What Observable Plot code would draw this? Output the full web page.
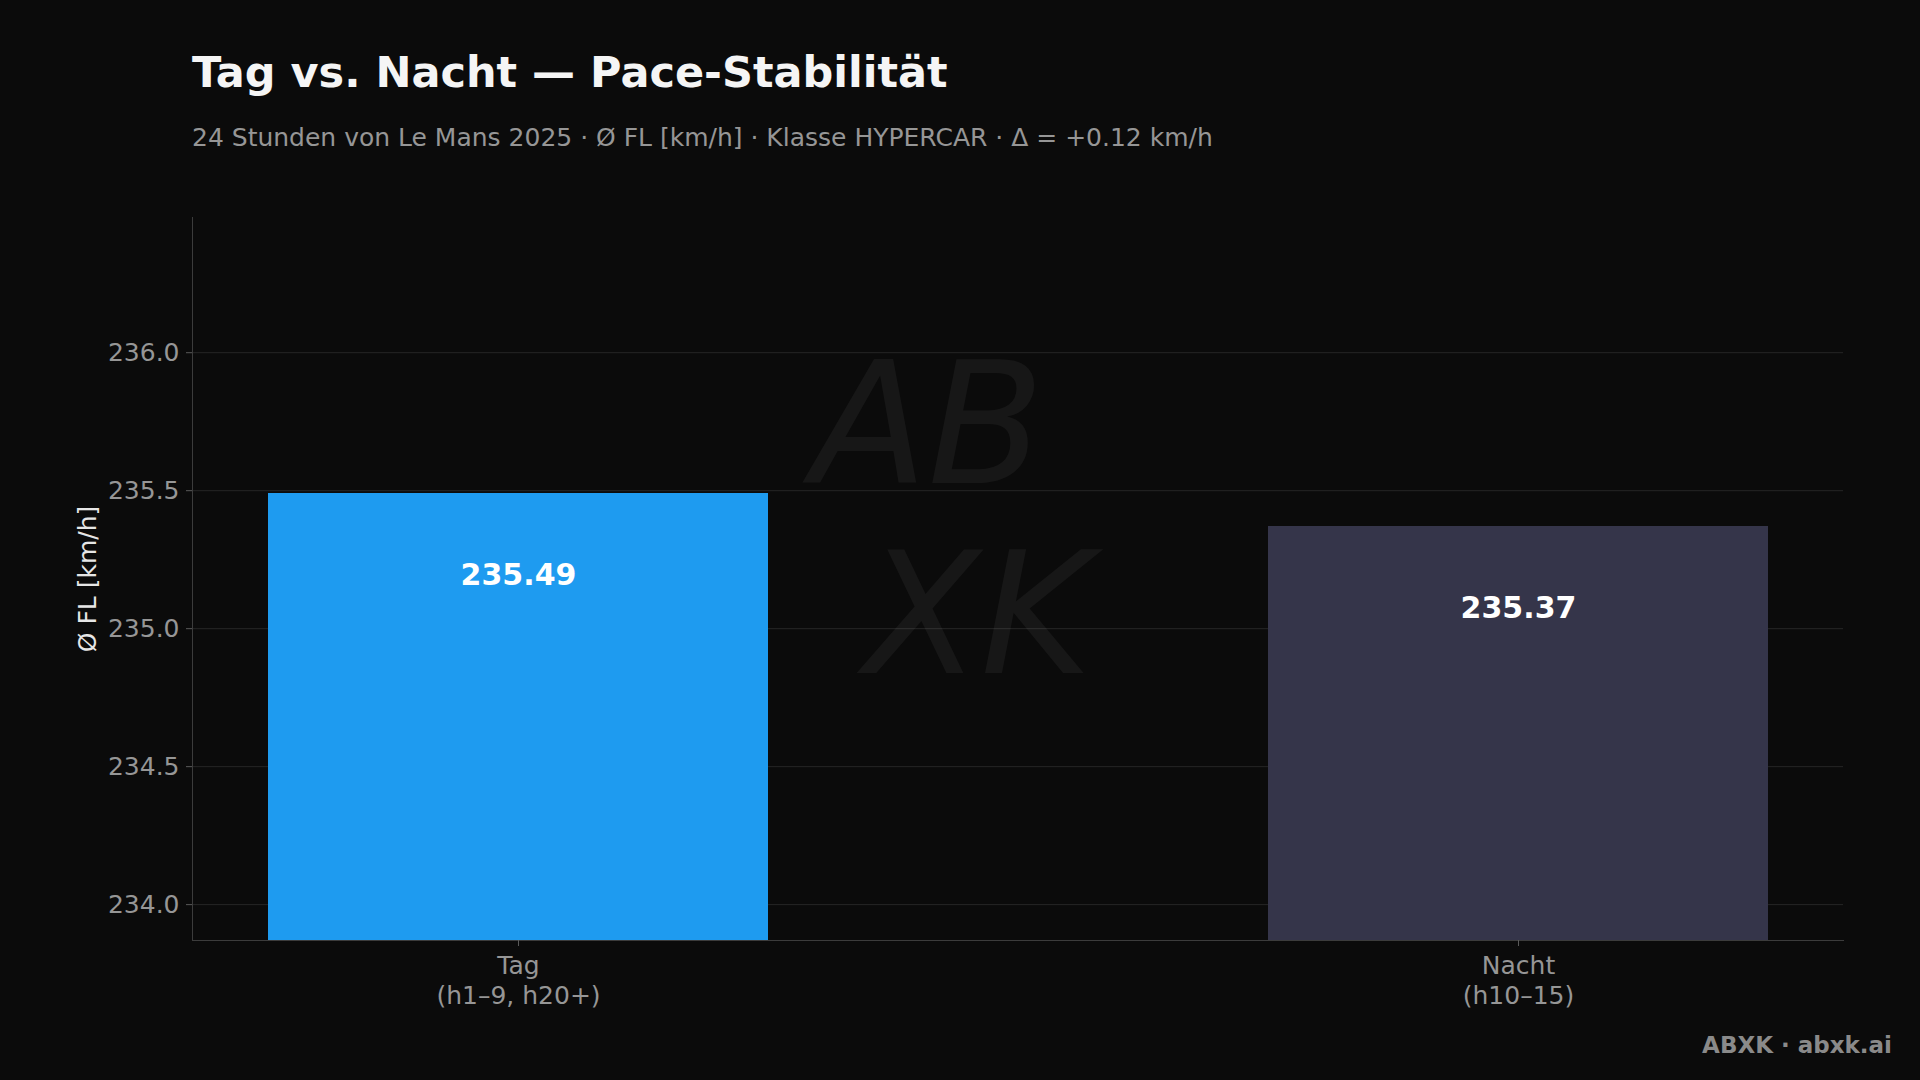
<!DOCTYPE html>
<html>
<head>
<meta charset="utf-8">
<script src="https://cdn.jsdelivr.net/npm/d3@7"></script>
<script src="https://cdn.jsdelivr.net/npm/@observablehq/plot@0.6"></script>
<style>
  html, body { margin: 0; padding: 0; background: #0b0b0b; }
  body { width: 1920px; height: 1080px; overflow: hidden; position: relative; font-family: "DejaVu Sans", sans-serif; }
  #header { position: relative; height: 170px; }
  #title { position: absolute; left: 192px; top: 51px; font-size: 43px; line-height: 43px; font-weight: bold; color: #f5f5f5; white-space: nowrap; }
  #subtitle { position: absolute; left: 192px; top: 125px; font-size: 25px; line-height: 25px; color: #969696; white-space: nowrap; }
  #credit { position: absolute; right: 28px; top: 1034px; font-size: 23px; line-height: 23px; font-weight: bold; color: #8a8a8a; white-space: nowrap; }
  #chart svg { display: block; }
</style>
</head>
<body>
<div id="header">
  <div id="title">Tag vs. Nacht — Pace-Stabilität</div>
  <div id="subtitle">24 Stunden von Le Mans 2025 · Ø FL [km/h] · Klasse HYPERCAR · Δ = +0.12 km/h</div>
</div>
<div id="chart"></div>
<div id="credit">ABXK · abxk.ai</div>
<script>
const categories = ["Tag", "Nacht"];
const subLabels = ["(h1–9, h20+)", "(h10–15)"];
const values = [235.49, 235.37];
const barColors = ["#1e9bf0", "#35354a"];
const yTicks = [234.0, 234.5, 235.0, 235.5, 236.0];
const yDomain = [233.87, 236.49];
const yLabel = "Ø FL [km/h]";
const signature = ["AB", "XK"];

const data = categories.map((c, i) => ({cat: c, value: values[i]}));

const chart = Plot.plot({
  width: 1920,
  height: 910,
  marginTop: 47,
  marginBottom: 140,
  marginLeft: 192,
  marginRight: 77,
  style: {background: "transparent", fontFamily: "DejaVu Sans", fontSize: "25px", color: "#969696"},
  x: {domain: categories, paddingInner: 0.5, paddingOuter: 0.075, label: null},
  y: {domain: yDomain, label: null},
  color: {domain: categories, range: barColors},
  marks: [
    Plot.gridY(yTicks, {stroke: "#262626", strokeOpacity: 1}),
    Plot.barY(data, {x: "cat", y: "value", fill: "cat", clip: true}),
    Plot.text([signature[0]], {frameAnchor: "middle", dx: -90, dy: -150, fontSize: 170, fontStyle: "italic", fontWeight: 300, fill: "#ffffff", fillOpacity: 0.05}),
    Plot.text([signature[1]], {frameAnchor: "middle", dx: -40, dy: 40, fontSize: 170, fontStyle: "italic", fontWeight: 300, fill: "#ffffff", fillOpacity: 0.05}),
    Plot.text(data, {x: "cat", y: "value", text: d => d.value.toFixed(2), dy: 82, fill: "#ffffff", fontWeight: "bold", fontSize: 30}),
    Plot.frame({anchor: "left", stroke: "#3c3c3c", strokeOpacity: 1}),
    Plot.frame({anchor: "bottom", stroke: "#3c3c3c", strokeOpacity: 1}),
    Plot.axisY({ticks: yTicks, tickFormat: d3.format(".1f"), tickSize: 6, tickPadding: 7, stroke: "#5a5a5a", fill: "#969696", fontSize: 25, label: null}),
    Plot.axisX({tickSize: 6, tickPadding: 6, tickFormat: (d) => d + "\n" + subLabels[categories.indexOf(d)], lineHeight: 1.2, stroke: "#5a5a5a", fill: "#969696", fontSize: 25, label: null}),
    Plot.text([yLabel], {frameAnchor: "left", textAnchor: "middle", rotate: -90, dx: -105, fill: "#e6e6e6", fontSize: 25})
  ]
});
document.getElementById("chart").appendChild(chart);
</script>
</body>
</html>
